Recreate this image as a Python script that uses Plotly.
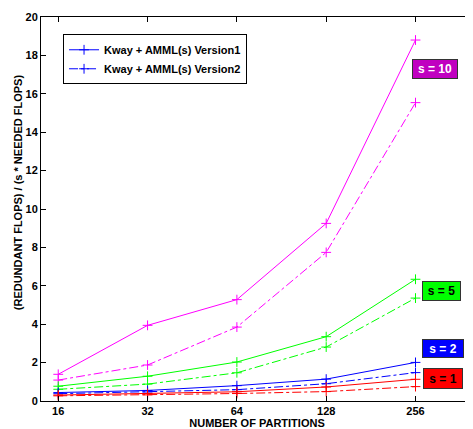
import plotly.graph_objects as go

partitions = [16, 32, 64, 128, 256]
tick_labels = ["16", "32", "64", "128", "256"]

s10_v1 = [1.39, 3.94, 5.28, 9.25, 18.8]
s10_v2 = [1.09, 1.875, 3.85, 7.74, 15.54]
s5_v1 = [0.77, 1.29, 2.03, 3.35, 6.34]
s5_v2 = [0.61, 0.88, 1.47, 2.81, 5.36]
s2_v1 = [0.44, 0.55, 0.80, 1.14, 2.01]
s2_v2 = [0.38, 0.47, 0.59, 0.90, 1.48]
s1_v1 = [0.31, 0.39, 0.48, 0.73, 1.13]
s1_v2 = [0.27, 0.32, 0.39, 0.49, 0.75]

s_labels = ["s = 10", "s = 5", "s = 2", "s = 1"]
s_label_y = [17.3, 5.75, 2.72, 1.15]

series = [
    (s10_v1, s10_v2, "#ff00ff"),
    (s5_v1, s5_v2, "#00ff00"),
    (s2_v1, s2_v2, "#0000ff"),
    (s1_v1, s1_v2, "#ff0000"),
]

fig = go.Figure()
for v1, v2, col in series:
    is_leg = col == "#0000ff"
    fig.add_trace(go.Scatter(
        x=partitions, y=v1, mode="lines+markers",
        line=dict(color=col, width=1),
        marker=dict(symbol="cross-thin", size=7, line=dict(color=col, width=1)),
        name="Kway + AMML(s) Version1", showlegend=is_leg, legendrank=1))
    fig.add_trace(go.Scatter(
        x=partitions, y=v2, mode="lines+markers",
        line=dict(color=col, width=1, dash="dashdot"),
        marker=dict(symbol="cross-thin", size=7, line=dict(color=col, width=1)),
        name="Kway + AMML(s) Version2", showlegend=is_leg, legendrank=2))

box_styles = [
    ("#c000c0", "white", 40, 14),
    ("#00ff00", "black", 33, 14),
    ("#0000ff", "white", 36, 13),
    ("#ff0000", "black", 34, 15),
]
box_x = [0.911, 0.926, 0.930, 0.930]
for lab, yv, (bg, fc, w, h), bx in zip(s_labels, s_label_y, box_styles, box_x):
    fig.add_annotation(
        x=bx, xref="paper", y=yv, yref="y", text=lab, showarrow=False,
        xanchor="center", yanchor="middle",
        bgcolor=bg, bordercolor="#333333", borderwidth=1, borderpad=2,
        width=w, height=h,
        font=dict(family="Liberation Sans", size=12, color=fc, weight="bold"))

fig.add_annotation(
    x=-0.053, xref="paper", y=0.544, yref="paper",
    text="(REDUNDANT FLOPS) / (s * NEEDED FLOPS)", textangle=-90,
    showarrow=False, xanchor="center", yanchor="middle",
    font=dict(family="Liberation Sans", size=11, color="black", weight="bold"))

axis_common = dict(
    showgrid=False, zeroline=False, showline=True, linecolor="black",
    linewidth=1, mirror="ticks", ticks="inside", ticklen=5,
    tickcolor="black", automargin=False,
    tickfont=dict(family="Liberation Sans", size=11, color="black", weight="bold"),
)

fig.update_layout(
    width=465, height=421,
    margin=dict(l=33, r=0, t=9, b=28),
    paper_bgcolor="white", plot_bgcolor="white",
    font=dict(family="Liberation Sans", size=11, color="black", weight="bold"),
    xaxis=dict(type="log", range=[1.146, 2.602], tickvals=partitions,
               ticktext=tick_labels, ticklabelstandoff=0,
               title=dict(text="NUMBER OF PARTITIONS", standoff=0,
                          font=dict(size=11, weight="bold")),
               **axis_common),
    yaxis=dict(range=[0, 20], dtick=2, **axis_common),
    legend=dict(x=0.051, y=0.955, xanchor="left", yanchor="top",
                bgcolor="white", bordercolor="black", borderwidth=1,
                font=dict(family="Liberation Sans", size=11, weight="bold"),
                tracegroupgap=0, itemwidth=30),
    showlegend=True,
)

fig.write_html("out.html")
